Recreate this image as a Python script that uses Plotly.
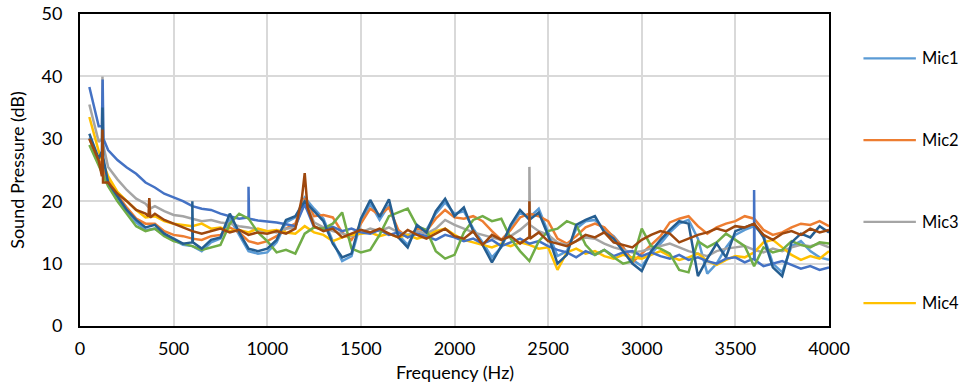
import plotly.graph_objects as go

# Frequency grid (Hz)
FREQ = list(range(50, 4001, 50))

NAMES = ["Mic1", "Mic2", "Mic3", "Mic4", "Mic5", "Mic6", "Mic7", "Mic8"]
COLORS = ["#5B9BD5", "#ED7D31", "#A5A5A5", "#FFC000",
          "#4472C4", "#70AD47", "#255E91", "#9E480E"]
LEGEND_NAMES = ["Mic1", "Mic2", "Mic3", "Mic4"]   # legend shows first four only

# Sound pressure (dB), one value per 50 Hz step
MIC1 = [30.2, 26.2, 22.8, 20.4, 18.4, 16.6, 15.4, 15.6, 14.6, 13.8,
        13.0, 12.8, 12.0, 13.4, 14.0, 17.2, 14.6, 12.0, 11.6, 11.8,
        13.4, 16.6, 17.4, 20.6, 18.8, 17.2, 13.6, 10.4, 11.2, 16.6,
        19.6, 17.0, 19.4, 14.6, 13.0, 15.8, 15.4, 18.0, 19.8, 18.0,
        18.4, 15.6, 13.4, 11.0, 12.6, 15.8, 18.2, 17.4, 18.8, 15.0,
        11.2, 12.0, 15.6, 16.8, 17.0, 15.4, 14.4, 12.6, 10.6, 9.6,
        11.6, 13.2, 15.0, 16.4, 17.0, 14.0, 8.4, 10.0, 12.6, 14.6,
        15.4, 16.0, 14.6, 10.0, 8.6, 12.8, 13.6, 12.0, 11.0, 10.6]
MIC2 = [30.0, 26.6, 23.4, 21.0, 19.0, 17.2, 16.4, 16.4, 15.2, 14.6,
        14.4, 14.0, 13.8, 14.4, 14.6, 15.8, 15.0, 13.6, 13.2, 13.6,
        14.4, 15.6, 16.4, 20.4, 17.6, 17.8, 17.4, 15.0, 13.8, 16.4,
        18.8, 17.8, 19.0, 15.4, 14.2, 15.6, 15.2, 17.2, 18.6, 17.4,
        17.2, 17.6, 16.8, 15.2, 13.8, 15.4, 17.4, 18.0, 17.6, 16.8,
        14.0, 13.2, 14.4, 15.8, 16.4, 15.8, 14.2, 12.6, 10.2, 11.6,
        13.0, 14.4, 16.6, 17.2, 17.6, 16.0, 14.8, 15.8, 16.4, 16.8,
        17.6, 17.2, 15.4, 14.6, 15.0, 15.8, 16.4, 16.2, 16.8, 16.0]
MIC3 = [35.5, 29.5, 25.5, 23.5, 21.8, 20.4, 19.6, 19.2, 18.4, 17.8,
        17.6, 17.2, 16.8, 17.0, 16.6, 16.4, 16.0, 15.8, 15.4, 15.2,
        15.0, 15.6, 15.8, 20.2, 16.6, 15.8, 15.2, 14.8, 14.4, 15.0,
        15.6, 15.2, 15.8, 15.0, 14.6, 15.2, 14.8, 15.6, 17.0, 16.2,
        15.6, 15.0, 14.6, 14.2, 13.8, 14.4, 15.4, 16.8, 15.2, 14.6,
        13.4, 13.0, 13.6, 14.2, 14.0, 13.2, 12.6, 12.2, 11.8, 12.0,
        12.4, 12.8, 13.2, 12.6, 12.0, 11.6, 11.2, 12.0, 12.4, 12.6,
        12.8, 12.2, 11.8, 12.4, 12.0, 12.6, 13.0, 12.8, 13.2, 12.6]
MIC4 = [33.5, 28.0, 24.0, 21.5, 20.0, 18.6, 17.4, 17.6, 16.8, 16.4,
        16.2, 16.0, 16.4, 15.6, 15.8, 15.2, 15.4, 15.0, 15.6, 15.2,
        15.4, 15.0, 14.8, 16.0, 15.0, 14.6, 13.6, 14.2, 14.6, 14.8,
        15.0, 14.4, 14.8, 14.2, 14.6, 14.0, 14.4, 15.2, 15.6, 14.6,
        13.8, 13.4, 13.0, 12.6, 13.2, 12.8, 13.4, 13.0, 12.4, 12.6,
        9.0, 11.8, 12.4, 11.6, 12.0, 11.2, 10.8, 11.4, 11.0, 10.8,
        11.4, 12.0, 11.2, 10.6, 11.0, 11.6, 10.4, 9.8, 10.6, 11.2,
        11.0, 11.8, 13.4, 13.8, 12.6, 11.4, 10.6, 11.2, 10.8, 12.0]
MIC5 = [38.3, 32.0, 28.2, 26.6, 25.4, 24.4, 23.0, 22.2, 21.2, 20.6,
        20.0, 19.2, 18.8, 18.6, 18.0, 17.6, 17.2, 17.4, 16.9, 16.8,
        16.6, 16.3, 16.0, 19.5, 15.8, 15.5, 15.9, 15.2, 15.6, 15.0,
        14.8, 15.4, 14.6, 15.0, 14.2, 14.8, 14.4, 13.8, 14.6, 14.2,
        13.6, 14.0, 13.2, 13.8, 12.8, 13.4, 14.0, 13.2, 13.6, 12.8,
        12.2, 11.8, 11.0, 12.0, 11.4, 12.2, 11.2, 11.8, 12.0, 11.2,
        11.8, 11.2, 10.8, 11.4, 10.6, 11.0, 10.4, 10.0, 10.8, 11.0,
        10.2, 10.6, 9.6, 10.0, 10.4, 9.8, 9.2, 9.6, 9.0, 9.4]
MIC6 = [29.0, 25.8, 22.4, 20.0, 18.0, 16.0, 15.2, 15.6, 14.4, 13.6,
        13.2, 12.8, 12.2, 12.6, 13.0, 16.4, 18.0, 17.2, 15.0, 13.6,
        11.8, 12.2, 11.6, 14.8, 15.8, 15.6, 16.4, 18.2, 12.4, 11.8,
        12.2, 14.6, 17.6, 18.2, 18.8, 16.0, 15.4, 12.0, 10.8, 11.4,
        15.0, 17.0, 17.6, 16.8, 17.2, 14.0, 12.0, 10.4, 13.6, 15.2,
        15.6, 16.8, 16.2, 13.0, 11.4, 12.2, 11.0, 10.0, 10.4, 15.6,
        12.8, 12.4, 11.6, 9.0, 8.6, 13.6, 12.6, 13.4, 14.8, 13.8,
        12.8, 9.6, 12.6, 11.8, 12.2, 13.6, 13.0, 12.6, 13.4, 13.2]
MIC7 = [30.8, 26.8, 23.0, 20.8, 18.6, 17.0, 15.8, 16.2, 14.8, 14.0,
        13.2, 13.4, 12.4, 13.8, 14.2, 18.0, 15.0, 12.4, 12.0, 12.4,
        13.8, 17.0, 17.6, 20.0, 18.4, 16.8, 13.2, 11.0, 11.6, 17.2,
        20.2, 17.5, 20.3, 14.2, 12.6, 16.2, 15.0, 18.4, 20.4, 17.6,
        19.0, 15.2, 13.0, 10.2, 12.8, 16.2, 18.6, 17.0, 18.2, 14.5,
        10.0, 11.4, 16.2, 17.0, 17.6, 15.0, 14.0, 12.0, 10.0, 8.8,
        12.0, 13.8, 15.4, 16.8, 16.4, 8.0, 10.8, 13.2, 11.0, 15.2,
        15.8, 16.4, 14.2, 9.4, 8.0, 13.4, 14.8, 14.2, 16.0, 15.0]
MIC8 = [30.0, 26.5, 23.0, 21.2, 20.0, 18.6, 18.0, 18.0, 17.0, 16.4,
        15.8, 15.2, 14.8, 15.2, 15.6, 15.0, 15.4, 14.6, 15.0, 14.8,
        15.2, 14.8, 15.6, 24.5, 16.0, 15.2, 15.6, 14.2, 14.8, 15.4,
        15.0, 15.6, 14.8, 14.2, 15.4, 14.6, 14.0, 14.8, 15.6, 14.4,
        14.0, 15.2, 13.0, 14.6, 13.8, 14.4, 13.2, 14.0, 15.0, 13.6,
        13.2, 12.8, 13.6, 14.6, 14.2, 15.0, 13.4, 13.0, 12.6, 13.8,
        14.6, 15.2, 14.8, 13.4, 14.0, 14.6, 15.0, 15.6, 15.2, 16.0,
        15.8, 16.4, 14.6, 13.8, 14.8, 15.2, 14.6, 15.6, 15.0, 15.4]

# Narrow tonal peaks (frequency Hz, dB)
PEAKS1 = []
PEAKS2 = []
PEAKS3 = [(117, 30.0), (120, 40.0), (124, 29.0),
          (367, 19.0), (370, 20.3), (374, 18.8),
          (2397, 16.6), (2400, 25.5), (2403, 16.2)]
PEAKS4 = []
PEAKS5 = [(117, 32.0), (121, 39.5), (125, 30.0),
          (897, 17.4), (900, 22.3), (903, 17.2),
          (3597, 10.8), (3600, 21.8), (3603, 10.6)]
PEAKS6 = []
PEAKS7 = [(117, 28.0), (120, 35.0), (124, 27.0),
          (597, 13.4), (600, 20.0), (603, 13.4)]
PEAKS8 = [(117, 24.0), (120, 31.5), (123, 23.0),
          (366, 17.6), (370, 20.5), (375, 17.4),
          (1185, 20.5), (1215, 19.0),
          (2397, 14.2), (2400, 20.0), (2403, 14.0)]

SERIES = [MIC1, MIC2, MIC3, MIC4, MIC5, MIC6, MIC7, MIC8]
PEAKS = [PEAKS1, PEAKS2, PEAKS3, PEAKS4, PEAKS5, PEAKS6, PEAKS7, PEAKS8]

X_TICKS = [0, 500, 1000, 1500, 2000, 2500, 3000, 3500, 4000]
Y_TICKS = [0, 10, 20, 30, 40, 50]
X_TITLE = "Frequency (Hz)"
Y_TITLE = "Sound Pressure (dB)"


def build(vals, peaks):
    pts = sorted(list(zip(FREQ, vals)) + list(peaks))
    return [p[0] for p in pts], [p[1] for p in pts]


fig = go.Figure()
for name, col, vals, pk in zip(NAMES, COLORS, SERIES, PEAKS):
    xs, ys = build(vals, pk)
    fig.add_trace(go.Scatter(
        x=xs, y=ys, mode="lines", name=name, showlegend=False,
        line=dict(color=col, width=2.5)))

FONT = "Lato"

# Legend on the right, entries spread over the plot height (Excel style)
LEG_Y = [0.858, 0.596, 0.334, 0.073]
shapes, annots = [], []
for nm, yy in zip(LEGEND_NAMES, LEG_Y):
    col = COLORS[NAMES.index(nm)]
    shapes.append(dict(type="line", xref="paper", yref="paper",
                       x0=1.046, x1=1.116, y0=yy, y1=yy,
                       line=dict(color=col, width=2.2)))
    annots.append(dict(xref="paper", yref="paper", x=1.1215, y=yy,
                       xanchor="left", yanchor="middle", showarrow=False,
                       text=nm, font=dict(size=16.5, family=FONT, color="#000000")))

# x-axis title sits close under the tick labels, as in the original
annots.append(dict(xref="paper", yref="paper", x=0.5, y=-0.148,
                   xanchor="center", yanchor="middle", showarrow=False,
                   text=X_TITLE, font=dict(size=18, family=FONT, color="#000000")))

fig.update_layout(
    width=964, height=387,
    margin=dict(l=80, r=135, t=14, b=61, autoexpand=False),
    paper_bgcolor="white", plot_bgcolor="white",
    font=dict(family=FONT, size=16, color="#000000"),
    showlegend=False,
    shapes=shapes, annotations=annots,
)
fig.update_xaxes(
    range=[0, 4000], tickvals=X_TICKS, ticktext=[str(v) for v in X_TICKS],
    showgrid=True, gridcolor="#D9D9D9", gridwidth=2,
    showline=True, linecolor="#000000", linewidth=2, mirror=True,
    ticks="outside", ticklen=5, tickcolor="rgba(0,0,0,0)",
    tickfont=dict(size=18, family=FONT), zeroline=False,
)
fig.update_yaxes(
    range=[0, 50], tickvals=Y_TICKS, ticktext=[str(v) for v in Y_TICKS],
    showgrid=True, gridcolor="#D9D9D9", gridwidth=2,
    showline=True, linecolor="#000000", linewidth=2, mirror=True,
    ticks="outside", ticklen=12, tickcolor="rgba(0,0,0,0)",
    tickfont=dict(size=18, family=FONT), zeroline=False,
    title=dict(text=Y_TITLE, font=dict(size=18, family=FONT), standoff=12),
)

fig.write_html("out.html")
